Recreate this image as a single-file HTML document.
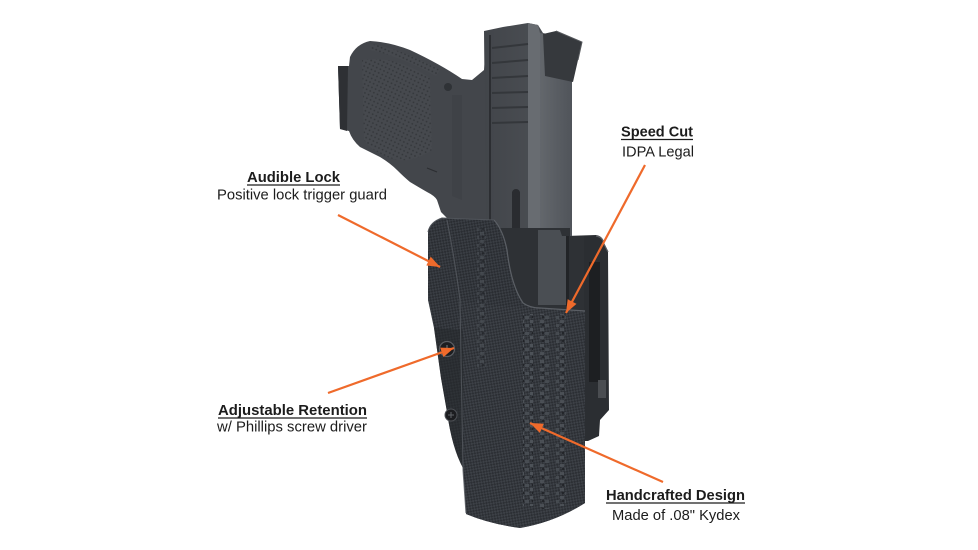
<!DOCTYPE html>
<html>
<head>
<meta charset="utf-8">
<style>
html,body{margin:0;padding:0;background:#fff;}
body{width:978px;height:550px;overflow:hidden;}
svg{display:block;}
text{font-family:"Liberation Sans",Arial,sans-serif;fill:#1c1c1c;}
</style>
</head>
<body>
<svg width="978" height="550" viewBox="0 0 978 550" xmlns="http://www.w3.org/2000/svg">
<defs>
  <pattern id="cf" width="4" height="4" patternUnits="userSpaceOnUse" patternTransform="rotate(35)">
    <rect width="4" height="4" fill="#2a2d32"/>
    <rect width="2" height="2" fill="#3a3e44"/>
    <rect x="2" y="2" width="2" height="2" fill="#3a3e44"/>
  </pattern>
  <pattern id="cf2" width="4" height="4" patternUnits="userSpaceOnUse" patternTransform="rotate(35)">
    <rect width="4" height="4" fill="#2c2f34"/>
    <rect width="2" height="2" fill="#3d4147"/>
    <rect x="2" y="2" width="2" height="2" fill="#3d4147"/>
  </pattern>
  <pattern id="blocks" width="10" height="8" patternUnits="userSpaceOnUse">
    <rect width="10" height="8" fill="none"/>
    <rect x="0" y="0" width="4" height="3" fill="#50555b"/>
    <rect x="5" y="4" width="4" height="3" fill="#4a4f55"/>
    <rect x="2" y="4" width="2" height="2" fill="#1f2125"/>
  </pattern>
  <pattern id="stip" width="4" height="4" patternUnits="userSpaceOnUse" patternTransform="rotate(25)">
    <rect width="4" height="4" fill="#46494e"/>
    <circle cx="2" cy="2" r="0.9" fill="#34373b"/>
  </pattern>
  <linearGradient id="slideR" x1="0" x2="1" y1="0" y2="0">
    <stop offset="0" stop-color="#63676c"/>
    <stop offset="1" stop-color="#50545a"/>
  </linearGradient>
  <linearGradient id="slideL" x1="0" x2="1" y1="0" y2="0">
    <stop offset="0" stop-color="#42454a"/>
    <stop offset="1" stop-color="#4f5358"/>
  </linearGradient>
  <marker id="ah" markerWidth="14" markerHeight="11" refX="13" refY="5" orient="auto" markerUnits="userSpaceOnUse">
    <path d="M0,0 L13,5 L0,10 Z" fill="#ef6a2b"/>
  </marker>
  <clipPath id="gripclip">
    <path d="M350,57 Q356,44 370,41 Q390,42 410,50 Q440,64 462,79 L472,80 L484,70 L487,35 L490,236 L470,228 L447,218 L441,212 L437,200 Q435,196 427,192 Q420,188 410,182 Q404,177 397,170 Q390,163 380,157 Q370,152 360,147 Q352,140 350,130 Z"/>
  </clipPath>
</defs>

<!-- Belt clip (behind) -->
<path d="M566,236 L596,235 Q603,236 604,243 L608,251 L609,410 L600,420 L599,436 L588,441 L584,441 L584,312 L566,312 Z" fill="#2b2e32"/>
<rect x="589" y="262" width="11" height="120" fill="#1d1f22"/>
<rect x="598" y="380" width="8" height="18" fill="#4a4d51"/>
<path d="M596,236 Q603,237 604,244 L608,252" stroke="#5a5d61" stroke-width="1.2" fill="none"/>

<!-- Grip / frame -->
<path d="M338,66 L349,66 L350,57 Q356,44 370,41 Q390,42 410,50 Q440,64 462,79 L472,80 L484,70 L487,35 L490,236 L470,228 L447,218 L441,212 L437,200 Q435,196 427,192 Q420,188 410,182 Q404,177 397,170 Q390,163 380,157 Q370,152 360,147 Q352,140 349,131 L340,129 Z" fill="#43464b"/>
<path d="M338,66 L348,66 L347,131 L340,129 Z" fill="#2e3034"/>
<g clip-path="url(#gripclip)">
  <path d="M362,60 Q395,55 430,78 L432,150 Q410,165 390,158 Q370,150 364,140 Z" fill="url(#stip)"/>
  <path d="M370,44 Q400,48 440,70 L436,76 Q400,56 370,50 Z" fill="url(#stip)"/>
  <path d="M452,95 L462,95 L462,200 L452,196 Z" fill="#3f4247"/>
</g>
<circle cx="448" cy="87" r="4" fill="#2f3236"/>
<path d="M427,168 L437,172" stroke="#2c2e32" stroke-width="1.2"/>

<!-- Slide -->
<path d="M484,31 L503,27 L528,23 L538,25 L543,33 L572,40 L572,236 L486,236 Z" fill="url(#slideL)"/>
<path d="M528,23 L538,25 L540,33 L540,236 L528,236 Z" fill="#686c71"/>
<path d="M540,33 L572,40 L572,236 L540,236 Z" fill="url(#slideR)"/>
<line x1="490" y1="35" x2="490" y2="234" stroke="#2c2e32" stroke-width="2"/>
<g stroke-width="2">
  <line x1="492" y1="48" x2="528" y2="44" stroke="#34373b"/>
  <line x1="492" y1="63" x2="528" y2="60" stroke="#34373b"/>
  <line x1="492" y1="78" x2="528" y2="76" stroke="#34373b"/>
  <line x1="492" y1="93" x2="528" y2="92" stroke="#34373b"/>
  <line x1="492" y1="108" x2="528" y2="107" stroke="#34373b"/>
  <line x1="492" y1="123" x2="528" y2="122" stroke="#34373b"/>
</g>
<!-- rear sight -->
<path d="M543,34 L556,31 L582,42 L578,60 L573,82 L545,76 Z" fill="#36393d"/>
<path d="M556,31 L582,42 L578,60" stroke="#55585c" stroke-width="1" fill="none"/>
<!-- slide stop slot -->
<rect x="512" y="192" width="8" height="42" fill="#2a2c30"/>
<circle cx="516" cy="193" r="4" fill="#2a2c30"/>
<!-- lower gun part inside -->
<path d="M494,228 L570,228 L570,236 L584,236 L584,312 L500,312 Z" fill="#2e3135"/>
<path d="M538,230 L560,230 L562,236 L566,236 L566,305 L538,305 Z" fill="#4a4e53"/>
<rect x="566" y="236" width="3" height="70" fill="#222427"/>

<!-- Holster body -->
<path d="M428,232 Q430,222 442,218 L494,220 Q503,230 507,250 Q511,285 523,303 Q530,308 540,308 L585,311 L585,503 Q555,522 520,528 Q490,524 466,514 L463,468 Q452,448 447,412 L441,378 L434,328 L428,300 Z" fill="url(#cf)"/>
<path d="M434,328 L441,378 L447,412 Q452,448 463,468 L463,330 Z" fill="#25282c" opacity="0.55"/>
<path d="M462,300 Q480,306 522,307 L585,311 L585,503 Q555,522 520,528 Q490,524 466,514 Z" fill="url(#cf2)" opacity="0.9"/>
<rect x="523" y="314" width="10" height="192" fill="url(#blocks)" opacity="0.9"/>
<rect x="540" y="314" width="9" height="195" fill="url(#blocks)" opacity="0.8"/>
<rect x="556" y="314" width="10" height="192" fill="url(#blocks)" opacity="0.8"/>
<rect x="477" y="228" width="9" height="140" fill="url(#blocks)" opacity="0.55"/>
<path d="M447,220 Q455,260 460,300 L463,470 L466,513" stroke="#55595f" stroke-width="1.1" fill="none" opacity="0.8"/>
<path d="M494,220 Q503,230 507,250 Q511,285 523,303 Q530,308 540,308 L585,311" stroke="#5b5f65" stroke-width="1.2" fill="none"/>
<path d="M428,232 Q430,222 442,218 L494,220" stroke="#50545a" stroke-width="1" fill="none"/>
<!-- screws -->
<circle cx="447" cy="349" r="7.5" fill="#1c1d20" stroke="#5a5d62" stroke-width="1.2"/>
<path d="M443,349 L451,349 M447,345 L447,353" stroke="#6a6d72" stroke-width="1.2"/>
<circle cx="451" cy="415" r="6" fill="#1c1d20" stroke="#4e5156" stroke-width="1"/>
<path d="M448,415 L454,415 M451,412 L451,418" stroke="#5f6267" stroke-width="1"/>

<!-- Arrows -->
<g stroke="#ef6a2b" stroke-width="2.2" fill="none">
  <line x1="338" y1="215" x2="440" y2="267" marker-end="url(#ah)"/>
  <line x1="328" y1="393" x2="454" y2="348" marker-end="url(#ah)"/>
  <line x1="645" y1="165" x2="566" y2="313" marker-end="url(#ah)"/>
  <line x1="663" y1="482" x2="530" y2="423" marker-end="url(#ah)"/>
</g>

<!-- Labels -->
<text x="247" y="182" font-size="15" font-weight="bold" textLength="93" lengthAdjust="spacingAndGlyphs">Audible Lock</text>
<line x1="247" y1="185" x2="340" y2="185" stroke="#1c1c1c" stroke-width="1.3"/>
<text x="217" y="199.5" font-size="14.5" textLength="170" lengthAdjust="spacingAndGlyphs">Positive lock trigger guard</text>

<text x="621" y="136.5" font-size="15" font-weight="bold" textLength="72" lengthAdjust="spacingAndGlyphs">Speed Cut</text>
<line x1="621" y1="139.5" x2="693" y2="139.5" stroke="#1c1c1c" stroke-width="1.3"/>
<text x="622" y="156.5" font-size="14.5" textLength="72" lengthAdjust="spacingAndGlyphs">IDPA Legal</text>

<text x="218" y="415" font-size="15" font-weight="bold" textLength="149" lengthAdjust="spacingAndGlyphs">Adjustable Retention</text>
<line x1="218" y1="418" x2="367" y2="418" stroke="#1c1c1c" stroke-width="1.3"/>
<text x="217" y="431.5" font-size="14.5" textLength="150" lengthAdjust="spacingAndGlyphs">w/ Phillips screw driver</text>

<text x="606" y="500" font-size="15" font-weight="bold" textLength="139" lengthAdjust="spacingAndGlyphs">Handcrafted Design</text>
<line x1="606" y1="503" x2="745" y2="503" stroke="#1c1c1c" stroke-width="1.3"/>
<text x="612" y="520" font-size="14.5" textLength="128" lengthAdjust="spacingAndGlyphs">Made of .08" Kydex</text>
</svg>
</body>
</html>
